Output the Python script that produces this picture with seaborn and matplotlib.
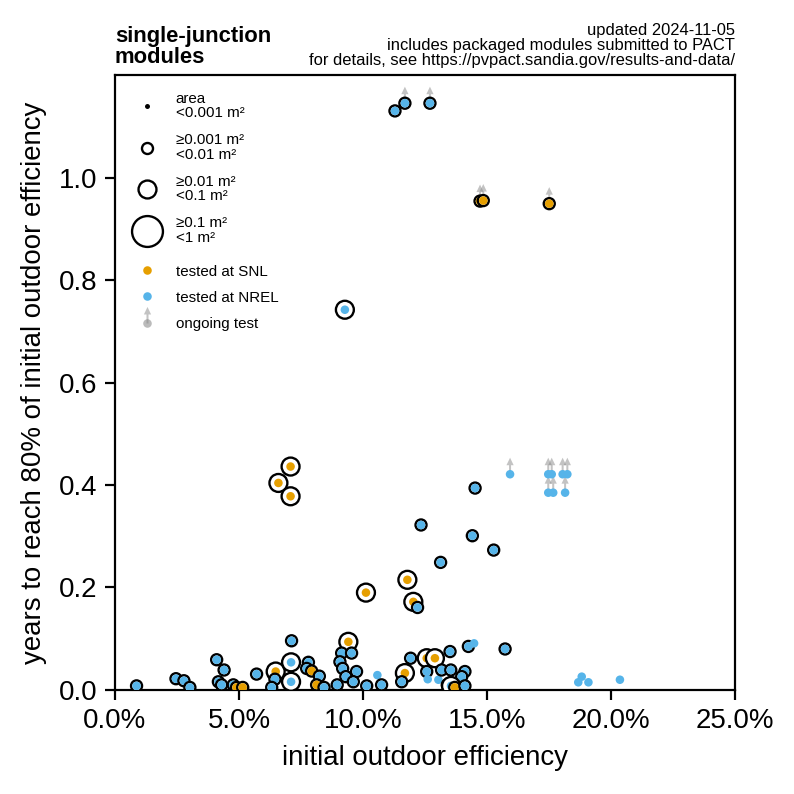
import numpy as np
import pandas as pd
import matplotlib
matplotlib.use("Agg")
import matplotlib.pyplot as plt
import seaborn as sns
from matplotlib.lines import Line2D
from matplotlib.path import Path
from matplotlib.ticker import FuncFormatter, MultipleLocator

# ---- data (efficiency in %, years to reach 80%) ----
efficiency = [0.87, 2.46, 2.78, 3.02, 4.10, 4.40, 4.17, 4.30, 4.77, 4.90, 5.15, 5.71, 7.12,
              6.48, 7.10, 7.10, 6.45, 6.32, 7.80, 7.73, 7.93, 8.24, 8.13, 8.43,
              9.41, 9.14, 9.54, 9.07, 9.18, 9.74, 9.31, 9.61, 8.96, 10.15, 10.58, 10.75,
              11.69, 11.56, 11.92, 12.57, 12.90, 12.57, 12.61, 13.04, 13.17, 13.51, 13.54,
              14.11, 13.98, 13.40, 13.55, 13.70, 14.11, 14.25, 14.48, 15.73,
              18.82, 18.68, 19.09, 20.36,
              11.29, 11.69, 12.70, 14.72, 14.85, 17.51, 9.27,
              15.93, 17.47, 17.61, 18.05, 18.24, 17.47, 17.67, 18.15,
              15.27, 7.08, 6.59, 7.08, 14.52, 12.34, 14.41, 13.13, 11.79, 10.12, 12.03, 12.20]
years = [0.008, 0.022, 0.018, 0.005, 0.059, 0.039, 0.016, 0.010, 0.010, 0.005, 0.005, 0.031, 0.096,
         0.036, 0.054, 0.016, 0.021, 0.005, 0.054, 0.042, 0.037, 0.027, 0.010, 0.005,
         0.094, 0.072, 0.072, 0.055, 0.042, 0.036, 0.026, 0.016, 0.010, 0.008, 0.029, 0.010,
         0.033, 0.016, 0.062, 0.062, 0.062, 0.036, 0.021, 0.020, 0.039, 0.075, 0.039,
         0.036, 0.026, 0.010, 0.008, 0.005, 0.008, 0.085, 0.091, 0.080,
         0.026, 0.015, 0.015, 0.020,
         1.130, 1.145, 1.145, 0.954, 0.955, 0.949, 0.742,
         0.421, 0.421, 0.421, 0.421, 0.421, 0.385, 0.385, 0.385,
         0.273, 0.436, 0.404, 0.378, 0.394, 0.322, 0.301, 0.249, 0.215, 0.190, 0.172, 0.161]
lab = ["NREL", "NREL", "NREL", "NREL", "NREL", "NREL", "NREL", "NREL", "NREL", "SNL", "SNL", "NREL", "NREL",
       "SNL", "NREL", "NREL", "NREL", "NREL", "NREL", "NREL", "SNL", "NREL", "SNL", "NREL",
       "SNL", "NREL", "NREL", "NREL", "NREL", "NREL", "NREL", "NREL", "NREL", "NREL", "NREL", "NREL",
       "SNL", "NREL", "NREL", "SNL", "SNL", "NREL", "NREL", "NREL", "NREL", "NREL", "NREL",
       "NREL", "NREL", "NREL", "NREL", "SNL", "NREL", "NREL", "NREL", "NREL",
       "NREL", "NREL", "NREL", "NREL",
       "NREL", "NREL", "NREL", "SNL", "SNL", "SNL", "NREL",
       "NREL", "NREL", "NREL", "NREL", "NREL", "NREL", "NREL", "NREL",
       "NREL", "SNL", "SNL", "SNL", "NREL", "NREL", "NREL", "NREL", "SNL", "SNL", "SNL", "NREL"]
area_cat = [2, 2, 2, 2, 2, 2, 2, 2, 2, 2, 2, 2, 2,
            3, 3, 3, 2, 2, 2, 2, 2, 2, 2, 2,
            3, 2, 2, 2, 2, 2, 2, 2, 2, 2, 1, 2,
            3, 2, 2, 3, 3, 2, 1, 1, 2, 2, 2,
            2, 2, 2, 3, 2, 2, 2, 1, 2,
            1, 1, 1, 1,
            2, 2, 2, 2, 2, 2, 3,
            1, 1, 1, 1, 1, 1, 1, 1,
            2, 3, 3, 3, 2, 2, 2, 2, 3, 3, 3, 2]
ongoing = [False] * 60 + [False, True, True, True, True, True, False] + [True] * 8 + [False] * 12

area_labels = ["area\n<0.001 m²", "≥0.001 m²\n<0.01 m²", "≥0.01 m²\n<0.1 m²", "≥0.1 m²\n<1 m²"]
lab_labels = {"SNL": "tested at SNL", "NREL": "tested at NREL"}

# ---- styles ----
ORANGE = "#E69F00"
BLUE = "#56B4E9"
GRAY = "#888888"
ring_ms = {1: 1.8, 2: 4.0, 3: 6.5, 4: 11.2}   # marker diameters in points
dot_ms = 3.1
ring_lw = 0.85

rows = []
for x, y, l, c in zip(efficiency, years, lab, area_cat):
    rows.append(dict(x=x, y=y, layer="ring1" if c == 1 else "ring", size=f"c{c}", lw=ring_lw if c > 1 else 0.0))
    rows.append(dict(x=x, y=y, layer=l, size="dot", lw=0.0))
df = pd.DataFrame(rows)

ong = pd.DataFrame({"x": efficiency, "y": years, "ongoing": ongoing})
ong = ong[ong["ongoing"]]

# arrow marker: shaft + triangle, origin at the data point
arrow_verts = [(-1, 0), (1, 0), (1, 9), (3.6, 9), (0, 16.5), (-3.6, 9), (-1, 9), (-1, 0)]
arrow_codes = [Path.MOVETO] + [Path.LINETO] * 6 + [Path.CLOSEPOLY]
arrow = Path(arrow_verts, arrow_codes)

sns.set_theme(style="ticks")
plt.rcParams["font.family"] = ["Liberation Sans", "DejaVu Sans"]
for k in ("text.color", "axes.labelcolor", "xtick.color", "ytick.color", "axes.edgecolor"):
    plt.rcParams[k] = "black"

fig = plt.figure(figsize=(4, 4), dpi=198.5)
ax = fig.add_axes([0.1448, 0.131, 0.7809, 0.7745])

sns.scatterplot(data=ong, x="x", y="y", marker=arrow, s=12.0 ** 2, color=GRAY, alpha=0.5,
                edgecolor="none", linewidth=0, legend=False, ax=ax, zorder=2)

sns.scatterplot(data=df, x="x", y="y", hue="layer",
                palette={"ring": "white", "ring1": "black", "SNL": ORANGE, "NREL": BLUE},
                size="size",
                sizes={"c1": ring_ms[1] ** 2, "c2": ring_ms[2] ** 2, "c3": ring_ms[3] ** 2,
                       "c4": ring_ms[4] ** 2, "dot": dot_ms ** 2},
                edgecolor="black", linewidth=df["lw"].values, legend=False, ax=ax, zorder=3)

ax.set_xlim(0, 25)
ax.set_ylim(0, 1.2)
ax.xaxis.set_major_locator(MultipleLocator(5))
ax.xaxis.set_major_formatter(FuncFormatter(lambda v, p: f"{v:.1f}%"))
ax.set_yticks([0.0, 0.2, 0.4, 0.6, 0.8, 1.0])
ax.yaxis.set_major_formatter(FuncFormatter(lambda v, p: f"{v:.1f}"))
ax.tick_params(direction="out", length=3.5, width=0.8, labelsize=10, colors="black", pad=3)
for s in ax.spines.values():
    s.set_linewidth(0.8)
    s.set_color("black")
ax.set_xlabel("initial outdoor efficiency", fontsize=10, labelpad=4, color="black")
ax.set_ylabel("years to reach 80% of initial outdoor efficiency", fontsize=10, labelpad=4, color="black")

ax.text(0.0, 1.012, "single-junction\nmodules", transform=ax.transAxes, ha="left", va="bottom",
        fontsize=8, fontweight="bold", linespacing=1.0, color="black")
ax.text(1.0, 1.012, "updated 2024-11-05\nincludes packaged modules submitted to PACT\n"
        "for details, see https://pvpact.sandia.gov/results-and-data/",
        transform=ax.transAxes, ha="right", va="bottom", fontsize=6, linespacing=1.0, color="black")

# ---- legends ----
h_area = []
for c in (1, 2, 3, 4):
    if c == 1:
        h_area.append(Line2D([], [], ls="none", marker="o", markersize=ring_ms[1],
                             markerfacecolor="black", markeredgewidth=0))
    else:
        h_area.append(Line2D([], [], ls="none", marker="o", markersize=ring_ms[c],
                             markerfacecolor="white", markeredgecolor="black", markeredgewidth=ring_lw))
leg1 = ax.legend(h_area, area_labels, loc="upper left", bbox_to_anchor=(0.01, 0.99), frameon=False,
                 fontsize=5.5, handlelength=2.0, handletextpad=0.9, labelspacing=0.85,
                 borderaxespad=0.3)
for t in leg1.get_texts():
    t.set_linespacing(1.05)
    t.set_color("black")
ax.add_artist(leg1)

h_lab = [Line2D([], [], ls="none", marker="o", markersize=dot_ms, markerfacecolor=ORANGE, markeredgewidth=0),
         Line2D([], [], ls="none", marker="o", markersize=dot_ms, markerfacecolor=BLUE, markeredgewidth=0)]
h_dot = Line2D([], [], ls="none", marker="o", markersize=dot_ms, markerfacecolor="#bbbbbb", markeredgewidth=0)
h_arr = Line2D([], [], ls="none", marker=arrow, markersize=12.0, markerfacecolor=GRAY,
               markeredgewidth=0, alpha=0.5)
h_lab.append((h_dot, h_arr))
leg2 = ax.legend(h_lab, [lab_labels["SNL"], lab_labels["NREL"], "ongoing test"], loc="upper left",
                 bbox_to_anchor=(0.01, 0.709), frameon=False, fontsize=5.5, handlelength=2.0,
                 handletextpad=0.9, labelspacing=0.8, borderaxespad=0.3)
for t in leg2.get_texts():
    t.set_color("black")

fig.savefig("out.png", dpi=198.5)
